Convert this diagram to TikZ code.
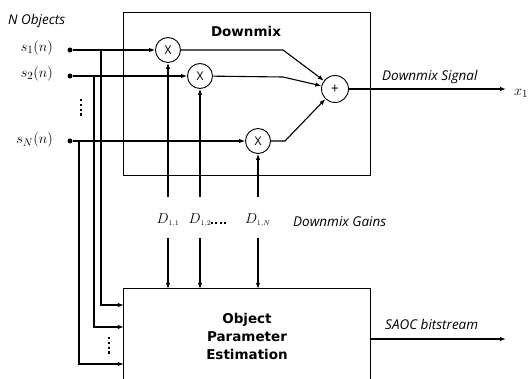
\documentclass[tikz,border=0pt]{standalone}
\usepackage{fontspec}
\usetikzlibrary{arrows.meta}
\newfontfamily\labfont{Open Sans}
\newfontfamily\titlefont{DejaVu Sans}
\begin{document}
\begin{tikzpicture}[x=1pt,y=-1pt,
  wire/.style={line width=1.1pt},
  arr/.style={wire,-{Latex[length=6pt,width=4.5pt]}},
  mult/.style={circle,draw,line width=0.9pt,minimum size=25pt,inner sep=0pt,font=\labfont\fontsize{12}{13}\selectfont},
  addr/.style={circle,draw,line width=0.9pt,minimum size=27pt,inner sep=0pt,font=\labfont\fontsize{14}{15}\selectfont},
  lab/.style={font=\labfont\itshape\fontsize{13.5}{15}\selectfont,inner sep=0pt},
  ttl/.style={font=\titlefont\bfseries\fontsize{13.5}{18}\selectfont,align=center,inner sep=0pt},
  mth/.style={font=\fontsize{15}{17}\selectfont,inner sep=0pt},
  gmth/.style={font=\fontsize{14}{16}\selectfont,inner sep=0pt},
  src/.style={circle,fill,inner sep=0pt,minimum size=5pt},
  vdots/.style={line width=2.2pt,dash pattern=on 2.2pt off 2.6pt}
]
\useasboundingbox (0,0) rectangle (528,379);

% Downmix box
\node[draw,line width=0.9pt,minimum width=247pt,minimum height=163pt,inner sep=0pt] (dmx) at (246.5,93.5) {};
\node[ttl] (dmxt) at (246,31) {Downmix};

% Object parameter estimation box (bottom cut off)
\node[minimum width=246pt,minimum height=100pt,inner sep=0pt] (obj) at (247,339) {};
\draw[line width=0.9pt] (obj.south west) -- (obj.north west) -- (obj.north east) -- (obj.south east);
\node[ttl] (objt) at (247,336) {Object\\Parameter\\Estimation};

% labels on the left
\node[lab,anchor=west] (nobj) at (8,21) {N Objects};
\node[mth,anchor=east] (l1) at (53,48) {$s_1(n)$};
\node[mth,anchor=east] (l2) at (53,74) {$s_2(n)$};
\node[mth,anchor=east] (lN) at (53,140) {$s_N(n)$};

% source dots
\node[src] (p1) at (70,50) {};
\node[src] (p2) at (70,76) {};
\node[src] (pN) at (70,141) {};
\draw[vdots] (81,99) -- (81,118);

% multipliers and adder
\node[mult] (m1) at (168,50) {X};
\node[mult] (m2) at (200,76) {X};
\node[mult] (mN) at (258,141) {X};
\node[addr] (plus) at (335,89) {+};

% inputs to multipliers
\draw[arr] (p1) -- (m1);
\draw[arr] (p2) -- (m2);
\draw[arr] (pN) -- (mN);

% multipliers to adder
\coordinate (k1) at (283,50);
\coordinate (k2) at (283,77);
\coordinate (kN) at (285,141);
\draw[arr] (m1) -- (k1) -- (plus);
\draw[arr] (m2) -- (k2) -- (plus);
\draw[arr] (mN) -- (kN) -- (plus);

% output
\coordinate (out1) at (506,89);
\draw[arr] (plus) -- (out1);
\node[lab,anchor=south west] (dsig) at (382,84) {Downmix Signal};
\node[mth,anchor=west] (x1) at (514,93) {$x_1$};

% branches to object parameter estimation
\coordinate (b1) at (101,50);
\coordinate (b2) at (94,76);
\coordinate (bN) at (79,141);
\coordinate (e1) at (101,305);
\coordinate (e2) at (94,327);
\coordinate (eN) at (79,364);
\draw[arr] (b1) -- (e1) -- (e1 -| obj.west);
\draw[arr] (b2) -- (e2) -- (e2 -| obj.west);
\draw[arr] (bN) -- (eN) -- (eN -| obj.west);
\draw[vdots] (109,337) -- (109,356);

% downmix gains
\node[gmth] (d1) at (168,220) {$D_{\scriptscriptstyle 1,1}$};
\node[gmth] (d2) at (200,220) {$D_{\scriptscriptstyle 1,2}$};
\node[gmth] (dN) at (258,220) {$D_{\scriptscriptstyle 1,N}$};
\draw[vdots,line width=2pt,dash pattern=on 2pt off 2.4pt] (211,223) -- (227,223);
\node[lab,anchor=west] (dg) at (293,222) {Downmix Gains};
\coordinate (u1) at (168,197);
\coordinate (u2) at (200,197);
\coordinate (uN) at (258,197);
\coordinate (w1) at (168,238);
\coordinate (w2) at (200,238);
\coordinate (wN) at (258,238);
\draw[arr] (u1) -- (m1);
\draw[arr] (u2) -- (m2);
\draw[arr] (uN) -- (mN);
\draw[arr] (w1) -- (w1 |- obj.north);
\draw[arr] (w2) -- (w2 |- obj.north);
\draw[arr] (wN) -- (wN |- obj.north);

% SAOC bitstream
\coordinate (out2) at (506,339);
\draw[arr] (obj.east) -- (out2);
\node[lab,anchor=south west] (saoc) at (385,330) {SAOC bitstream};
\end{tikzpicture}
\end{document}
